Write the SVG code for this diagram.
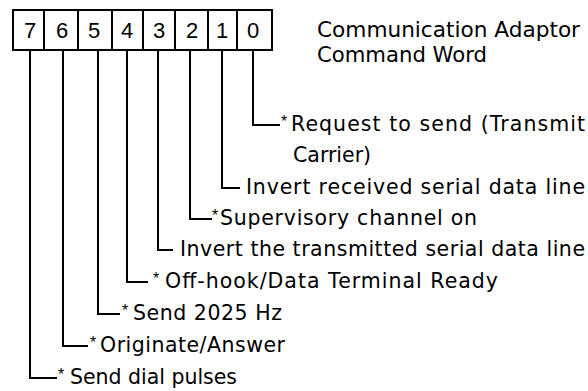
<svg xmlns="http://www.w3.org/2000/svg" width="588" height="391" viewBox="0 0 588 391">
<style>
.box{fill:#fff;stroke:#000;stroke-width:2}
.dig{font-family:"Liberation Sans",Arial,sans-serif;font-size:22px;text-anchor:middle;fill:#000}
.lbl{font-family:"DejaVu Sans","Liberation Sans",sans-serif;font-size:20.5px;fill:#000}
.star{font-family:"Liberation Sans",Arial,sans-serif;font-size:16px;fill:#000}
.con{fill:none;stroke:#000;stroke-width:2}
</style>
<rect width="588" height="391" fill="#fff"/>
<g id="register">
<rect class="box" x="13" y="10" width="259" height="40"/>
<path class="con" d="M44 10V50M78 10V50M112 10V50M143 10V50M175 10V50M208 10V50M237 10V50"/>
<text class="dig" x="30" y="38">7</text>
<text class="dig" x="62" y="38">6</text>
<text class="dig" x="94" y="38">5</text>
<text class="dig" x="127" y="38">4</text>
<text class="dig" x="159" y="38">3</text>
<text class="dig" x="192" y="38">2</text>
<text class="dig" x="222" y="38">1</text>
<text class="dig" x="253" y="38">0</text>
</g>
<g id="title">
<text class="lbl" x="317" y="37" textLength="263" lengthAdjust="spacingAndGlyphs">Communication Adaptor</text>
<text class="lbl" x="317" y="62" textLength="170" lengthAdjust="spacingAndGlyphs">Command Word</text>
</g>
<g id="connectors">
<path class="con" d="M253 50V125H280"/>
<path class="con" d="M222 50V188H240"/>
<path class="con" d="M190 50V219H212"/>
<path class="con" d="M158 50V250H173"/>
<path class="con" d="M127 50V282H148"/>
<path class="con" d="M98 50V314H120"/>
<path class="con" d="M63 50V346H88"/>
<path class="con" d="M30 50V378H57"/>
</g>
<g id="bit0">
<text class="star" x="281" y="127">*</text>
<text class="lbl" x="291" y="131" textLength="294">Request to send (Transmit</text>
<text class="lbl" x="293" y="162">Carrier)</text>
</g>
<g id="bit1">
<text class="lbl" x="246" y="194" textLength="339">Invert received serial data line</text>
</g>
<g id="bit2">
<text class="star" x="212" y="221">*</text>
<text class="lbl" x="220" y="225" textLength="257">Supervisory channel on</text>
</g>
<g id="bit3">
<text class="lbl" x="180" y="256" textLength="405">Invert the transmitted serial data line</text>
</g>
<g id="bit4">
<text class="star" x="153" y="284">*</text>
<text class="lbl" x="165" y="288" textLength="333">Off-hook/Data Terminal Ready</text>
</g>
<g id="bit5">
<text class="star" x="122" y="316">*</text>
<text class="lbl" x="133" y="320" textLength="149">Send 2025 Hz</text>
</g>
<g id="bit6">
<text class="star" x="90" y="348">*</text>
<text class="lbl" x="100" y="352" textLength="185">Originate/Answer</text>
</g>
<g id="bit7">
<text class="star" x="58" y="380">*</text>
<text class="lbl" x="70" y="384" textLength="167">Send dial pulses</text>
</g>
</svg>
